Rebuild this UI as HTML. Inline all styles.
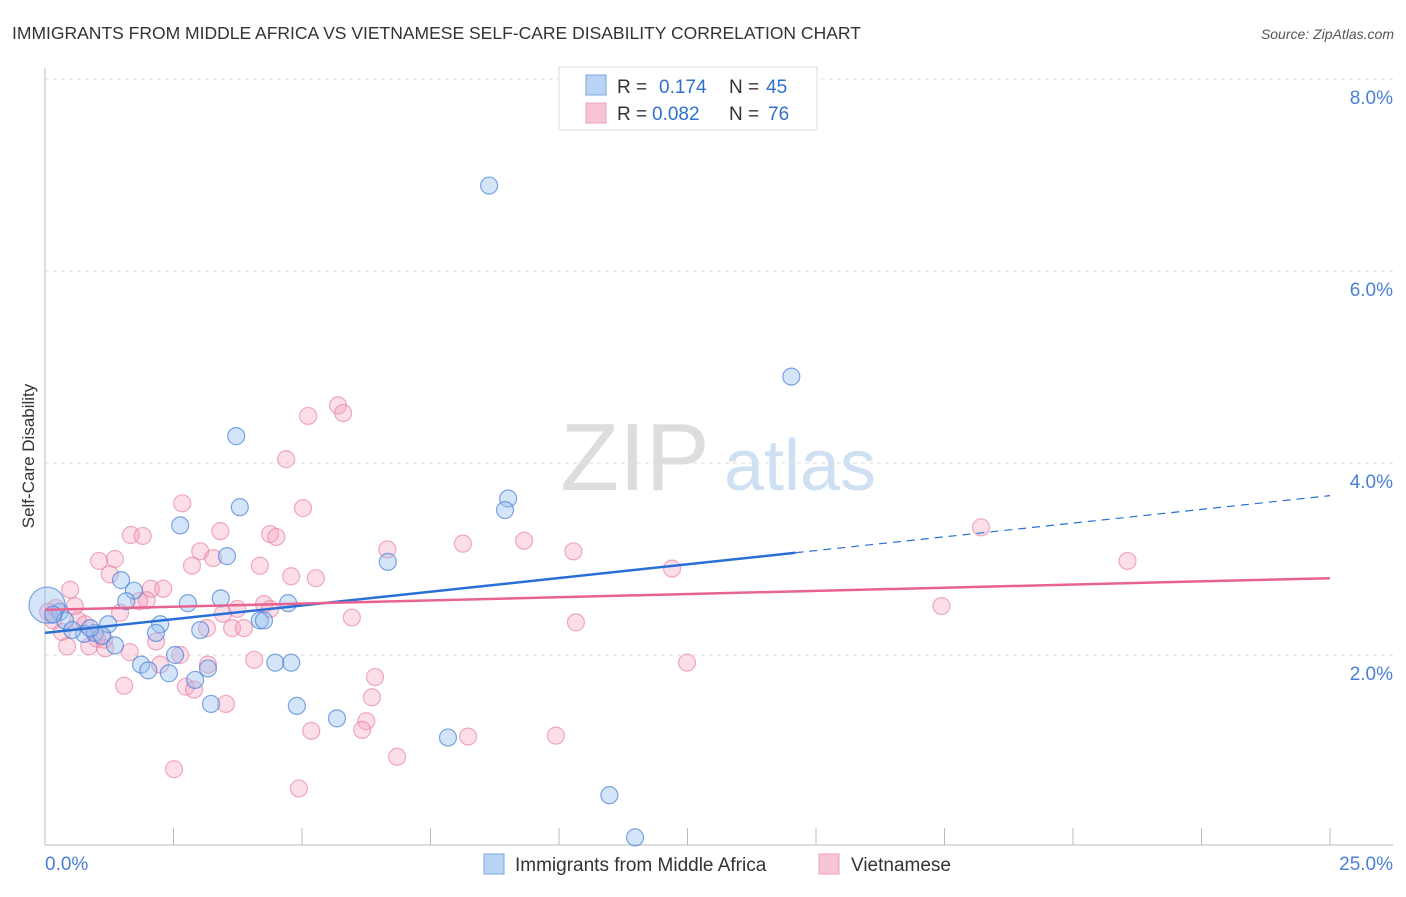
<!DOCTYPE html>
<html><head><meta charset="utf-8"><style>
body{margin:0;background:#fff;font-family:"Liberation Sans",sans-serif;}
svg text{font-family:"Liberation Sans",sans-serif;}
</style></head><body>
<svg width="1406" height="892" xmlns="http://www.w3.org/2000/svg">
<text x="12" y="39" font-size="17.5" fill="#333">IMMIGRANTS FROM MIDDLE AFRICA VS VIETNAMESE SELF-CARE DISABILITY CORRELATION CHART</text>
<text x="1394" y="39" font-size="14" fill="#555" font-style="italic" text-anchor="end">Source: ZipAtlas.com</text>
<g>
<text x="635" y="490" font-size="96" fill="#ddd" font-family="Liberation Serif,serif" text-anchor="middle">ZIP</text>
<text x="800" y="490" font-size="72" fill="#cfe0f3" text-anchor="middle">atlas</text>
</g>
<g id="grid"></g>
<g id="axes"></g>
<text x="34" y="456" font-size="17" fill="#333" text-anchor="middle" transform="rotate(-90 34 456)">Self-Care Disability</text>
<g id="pts"></g>
<g id="lines"></g>
<g>
<rect x="559" y="67" width="258" height="63" fill="#fff" stroke="#ddd"/>
<rect x="586" y="75" width="20" height="20" fill="#b8d3f3" stroke="#7aa8e0"/>
<rect x="586" y="103" width="20" height="20" fill="#f8c5d5" stroke="#eea0b8"/>
<text x="617" y="93" font-size="19" fill="#333">R = </text><text x="659" y="93" font-size="19" fill="#2f6fd0">0.174</text>
<text x="729" y="93" font-size="19" fill="#333">N = </text><text x="766" y="93" font-size="19" fill="#2f6fd0">45</text>
<text x="617" y="120" font-size="19" fill="#333">R = </text><text x="652" y="120" font-size="19" fill="#2f6fd0">0.082</text>
<text x="729" y="120" font-size="19" fill="#333">N = </text><text x="768" y="120" font-size="19" fill="#2f6fd0">76</text>
</g>
<g>
<rect x="484" y="854" width="20" height="20" fill="#b8d3f3" stroke="#7aa8e0"/>
<text x="515" y="871" font-size="19" fill="#333">Immigrants from Middle Africa</text>
<rect x="819" y="854" width="20" height="20" fill="#f8c5d5" stroke="#eea0b8"/>
<text x="851" y="871" font-size="19" fill="#333">Vietnamese</text>
</g>
</svg>
<script>
const yTicks=[2,4,6,8];
const yTickLabels=["2.0%","4.0%","6.0%","8.0%"];
const xTickLabels=["0.0%","25.0%"];
const blueX=[8.64,14.52,3.72,3.79,9.01,8.95,2.63,3.54,6.67,1.48,1.73,1.58,2.78,3.42,4.73,4.18,4.26,1.23,2.24,2.16,3.02,0.29,0.04,0.39,0.76,0.97,1.11,1.36,2.53,1.87,2.01,2.41,2.92,3.17,4.48,4.79,3.23,4.90,5.68,7.84,10.98,11.48,0.53,0.88,0.16];
const blueY=[6.89,4.90,4.28,3.54,3.63,3.51,3.35,3.03,2.97,2.78,2.67,2.56,2.54,2.59,2.54,2.36,2.36,2.32,2.32,2.23,2.26,2.45,2.52,2.36,2.22,2.23,2.20,2.10,2.00,1.90,1.84,1.81,1.74,1.86,1.92,1.92,1.49,1.47,1.34,1.14,0.54,0.10,2.26,2.28,2.42];
const pinkX=[5.70,5.80,5.12,4.69,2.67,5.02,3.41,4.38,4.50,1.67,1.90,18.21,8.13,9.32,10.28,6.66,3.02,3.27,1.36,1.05,21.06,2.86,4.18,12.20,1.26,4.79,5.27,0.49,2.06,2.30,1.98,1.83,0.58,4.26,4.38,3.74,17.44,1.46,3.46,5.97,10.33,0.64,0.16,3.64,3.87,3.15,0.33,1.01,1.15,2.16,0.43,0.86,1.17,1.65,2.63,4.07,2.24,3.17,12.49,6.42,1.54,2.74,2.90,6.36,3.52,6.25,6.17,5.18,8.23,9.94,6.85,2.51,4.94,0.21,0.06,0.78];
const pinkY=[4.60,4.52,4.49,4.04,3.58,3.53,3.29,3.26,3.23,3.25,3.24,3.33,3.16,3.19,3.08,3.10,3.08,3.01,3.00,2.98,2.98,2.93,2.93,2.90,2.84,2.82,2.80,2.68,2.69,2.69,2.57,2.56,2.51,2.53,2.48,2.48,2.51,2.44,2.43,2.39,2.34,2.36,2.36,2.28,2.28,2.28,2.24,2.17,2.16,2.14,2.09,2.09,2.07,2.03,2.00,1.95,1.90,1.90,1.92,1.77,1.68,1.67,1.64,1.56,1.49,1.31,1.22,1.21,1.15,1.16,0.94,0.81,0.61,2.49,2.45,2.32];
const blueTrend=[2.23,3.66];
const pinkTrend=[2.47,2.80];
const NS="http://www.w3.org/2000/svg";
const xS=v=>45+v/25*1285;
const yS=v=>847-v*96;
function mk(t,a,p){const e=document.createElementNS(NS,t);for(const k in a)e.setAttribute(k,a[k]);p.appendChild(e);return e;}
const grid=document.getElementById('grid'),axes=document.getElementById('axes'),pts=document.getElementById('pts'),lines=document.getElementById('lines');
yTicks.forEach((t,i)=>{
 const l=mk('line',{x1:45,x2:1393,y1:yS(t),y2:yS(t),stroke:'#ddd','stroke-dasharray':'4 4'},grid);
 
 
 const tx=mk('text',{x:1393,y:yS(t)+25,'font-size':19,fill:'#4a7fd6','text-anchor':'end'},axes);
 tx.textContent=yTickLabels[i];
 
 
});
mk('line',{x1:45,x2:45,y1:68,y2:845,stroke:'#bbb'},axes);
mk('line',{x1:45,x2:1393,y1:845,y2:845,stroke:'#bbb'},axes);
for(let i=1;i<=10;i++){const x=xS(i*2.5);mk('line',{x1:x,x2:x,y1:828,y2:845,stroke:'#bbb'},axes);}
const xl0=mk('text',{x:45,y:870,'font-size':19,fill:'#4a7fd6'},axes);xl0.textContent=xTickLabels[0];


const xl1=mk('text',{x:1393,y:870,'font-size':19,fill:'#4a7fd6','text-anchor':'end'},axes);xl1.textContent=xTickLabels[1];


pinkX.forEach((x,i)=>{
 const c=mk('circle',{cx:xS(x),cy:yS(pinkY[i]),r:8.5,fill:'rgba(244,160,188,0.35)',stroke:'rgba(230,120,155,0.6)','stroke-width':1.2},pts);
 
 
});
blueX.forEach((x,i)=>{
 const r=i===22?18:8.5;
 const c=mk('circle',{cx:xS(x),cy:yS(blueY[i]),r:r,fill:'rgba(150,190,240,0.4)',stroke:'rgba(60,120,210,0.65)','stroke-width':1.2},pts);
 
 
});
const bx=14.6, by=blueTrend[0]+(blueTrend[1]-blueTrend[0])*bx/25;
const b1=mk('line',{x1:xS(0),y1:yS(blueTrend[0]),x2:xS(bx),y2:yS(by),stroke:'#2a6fd6','stroke-width':2.5},lines);


const b2=mk('line',{x1:xS(bx),y1:yS(by),x2:xS(25),y2:yS(blueTrend[1]),stroke:'#2a6fd6','stroke-width':1.2,'stroke-dasharray':'8 6'},lines);


const p1=mk('line',{x1:xS(0),y1:yS(pinkTrend[0]),x2:xS(25),y2:yS(pinkTrend[1]),stroke:'#e8648f','stroke-width':2.5},lines);


</script>
</body></html>
